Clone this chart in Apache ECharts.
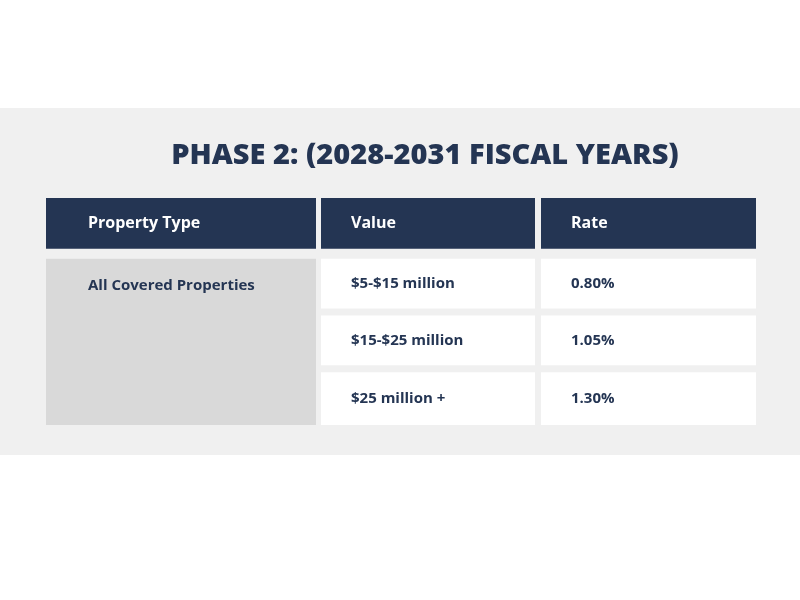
<!DOCTYPE html>
<html><head><meta charset="utf-8">
<script src="https://cdn.jsdelivr.net/npm/echarts@6/dist/echarts.min.js"></script>
<style>html,body{margin:0;background:#fff}#c{width:800px;height:600px}</style>
</head><body><div id="c"></div>
<script>
var titleText = 'PHASE 2: (2028-2031 FISCAL YEARS)';
var headers = ['Property Type', 'Value', 'Rate'];
var propertyTypes = ['All Covered Properties'];
var values = ['$5-$15 million', '$15-$25 million', '$25 million +'];
var rates = ['0.80%', '1.05%', '1.30%'];
var rows = ['header', 'r1', 'r2', 'r3'];

// column extents on the hidden x axis
var colEdges = [[0, 270], [275, 489], [495, 710]];
var navy = '#243553';

var cells = [];
headers.forEach(function (h, i) { cells.push([i, 0, h, 'head', 1]); });
cells.push([0, 1, propertyTypes[0], 'merged', 3]);
values.forEach(function (v, i) { cells.push([1, i + 1, v, 'body', 1]); });
rates.forEach(function (v, i) { cells.push([2, i + 1, v, 'body', 1]); });

var chart = echarts.init(document.getElementById('c'));
chart.setOption({
  backgroundColor: '#fff',
  graphic: [{ type: 'rect', z: -10, shape: { x: 0, y: 108, width: 800, height: 347 }, style: { fill: '#f0f0f0' } }],
  title: {
    text: titleText, left: 420, top: 136, textAlign: 'center',
    textStyle: { color: navy, fontSize: 29, fontWeight: 800, fontFamily: 'Open Sans' }
  },
  grid: { left: 46, right: 44, top: 198, bottom: 175 },
  xAxis: { type: 'value', min: 0, max: 710, show: false },
  yAxis: { type: 'category', data: rows, inverse: true, show: false },
  series: [{
    type: 'custom',
    data: cells,
    renderItem: function (params, api) {
      var col = api.value(0), row = api.value(1), span = api.value(4);
      var kind = cells[params.dataIndex][3];
      var text = cells[params.dataIndex][2];
      var bh = api.size([0, 1])[1];
      var x0 = api.coord([colEdges[col][0], row])[0];
      var x1 = api.coord([colEdges[col][1], row])[0];
      var yc = api.coord([0, row])[1];
      var top = yc - bh / 2 + (row === 0 ? 0 : 4);
      var bottom = yc - bh / 2 + bh * span - (row === 0 ? 6 : 3);
      if (row + span - 1 === rows.length - 1) bottom = yc - bh / 2 + bh * span;
      var fill = kind === 'head' ? navy : (kind === 'merged' ? '#d9d9d9' : '#ffffff');
      var tColor = kind === 'head' ? '#ffffff' : navy;
      var pad = col === 0 ? 42 : 30;
      var ty = kind === 'merged' ? top + 27 : (top + bottom) / 2;
      return {
        type: 'group',
        children: [
          { type: 'rect', shape: { x: x0, y: top, width: x1 - x0, height: bottom - top }, style: { fill: fill } },
          { type: 'text', x: x0 + pad, y: ty, style: {
              text: text, fill: tColor, verticalAlign: 'middle',
              font: (kind === 'head' ? '700 16px' : '700 15px') + ' "Open Sans"'
          } }
        ]
      };
    }
  }]
});
</script></body></html>
